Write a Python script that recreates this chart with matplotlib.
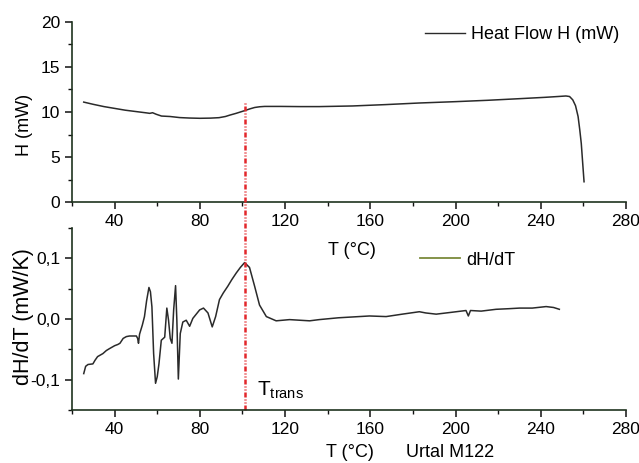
import numpy as np
import matplotlib
matplotlib.use("Agg")
import matplotlib.pyplot as plt
from matplotlib.ticker import MultipleLocator, FuncFormatter
from matplotlib.lines import Line2D

plt.rcParams['font.family'] = ['Liberation Sans', 'DejaVu Sans']

# heat flow H (mW) vs T (°C)
t_heat = [25.5, 30, 35, 40, 45, 50, 55, 56.5, 57.8, 59.5, 62, 66, 70.5, 75, 80, 85, 89,
          92, 94, 97, 101, 103.5, 105.7, 108, 110.4, 118, 127, 136, 151.6, 167, 183,
          200, 215, 230, 242, 248, 251.8, 253.5, 255, 256.3, 257.5, 258.3, 259, 259.7, 260.3]
h_heat = [11.1, 10.85, 10.6, 10.4, 10.2, 10.05, 9.9, 9.85, 9.92, 9.75, 9.55, 9.5, 9.38, 9.33, 9.3, 9.32, 9.37,
          9.5, 9.65, 9.85, 10.15, 10.35, 10.5, 10.58, 10.62, 10.62, 10.6, 10.6, 10.67, 10.82, 11.0,
          11.15, 11.3, 11.48, 11.63, 11.72, 11.78, 11.72, 11.35, 10.7, 9.5, 8.0, 6.5, 4.2, 2.25]

# derivative dH/dT (mW/K)
t_der = [25.5, 26.4, 27.5, 29.8, 30.8, 32, 33, 34.5, 36.1, 37.5, 38.5, 40, 41.5, 42.5, 44, 45.5,
         47, 50.2, 50.8, 51.2, 51.7, 53, 54, 55, 56.1, 56.8, 57.5, 58.3, 59.2, 60, 60.8, 61.9,
         63.5, 64.5, 65.3, 66.1, 66.9, 67.7, 68.6, 69.2, 69.9, 70.8, 72, 73.6, 75.2, 76.7,
         79.9, 81.7, 83.8, 85.8, 87.4, 89.2, 91, 93.1, 95, 97.1, 99, 101, 103.3, 105.7, 108,
         111.2, 115.8, 122.1, 131.5, 136, 145, 159.6, 167.4, 175, 183, 186, 190.9, 198, 204.9,
         206, 207, 212, 219, 225, 230, 236, 242.5, 246, 248.7]
d_der = [-0.090, -0.078, -0.075, -0.074, -0.068, -0.062, -0.060, -0.057, -0.052, -0.049, -0.047, -0.044, -0.042, -0.040, -0.032, -0.029,
         -0.028, -0.028, -0.032, -0.040, -0.025, -0.010, 0.004, 0.030, 0.052, 0.045, 0.020, -0.057, -0.106, -0.095, -0.074, -0.035,
         -0.030, 0.018, -0.002, -0.032, -0.040, 0.015, 0.055, -0.002, -0.099, -0.024, -0.005, -0.002, -0.012, 0.001,
         0.015, 0.018, 0.010, -0.013, 0.004, 0.032, 0.043, 0.054, 0.065, 0.076, 0.085, 0.093, 0.085, 0.054, 0.023,
         0.004, -0.003, -0.001, -0.003, -0.001, 0.002, 0.005, 0.004, 0.008, 0.012, 0.010, 0.008, 0.011, 0.014,
         0.005, 0.014, 0.013, 0.016, 0.017, 0.018, 0.018, 0.0205, 0.019, 0.016]

t_trans = 101

spine_col = '#1f331f'

fig = plt.figure(figsize=(6.39, 4.63), dpi=100)
ax1 = fig.add_axes([0.1127, 0.5637, 0.867, 0.3888])
ax2 = fig.add_axes([0.1127, 0.1145, 0.867, 0.393])
ax1.patch.set_alpha(0)
ax2.patch.set_alpha(0)

ax1.plot(t_heat, h_heat, color='#2a2a2a', lw=1.1)
ax2.plot(t_der, d_der, color='#2a2a2a', lw=1.1)

for ax in (ax1, ax2):
    ax.set_xlim(20, 280)
    ax.xaxis.set_major_locator(MultipleLocator(40))
    ax.xaxis.set_minor_locator(MultipleLocator(20))
    for s in ['top', 'right']:
        ax.spines[s].set_visible(False)
    for s in ['left', 'bottom']:
        ax.spines[s].set_color(spine_col)
        ax.spines[s].set_linewidth(1.2)
    ax.tick_params(which='major', direction='out', length=5, width=1.1, labelsize=12.5, color='#111111')
    ax.tick_params(which='minor', direction='out', length=3, width=1.0, color='#111111')
    ax.set_xticks([40, 80, 120, 160, 200, 240, 280])

ax1.set_ylim(0, 20)
ax1.yaxis.set_major_locator(MultipleLocator(5))
ax1.yaxis.set_minor_locator(MultipleLocator(2.5))
ax1.text(-0.086, 0.43, 'H (mW)', transform=ax1.transAxes, fontsize=13,
         rotation=90, ha='center', va='center')
ax1.text(0.505, -0.272, 'T (°C)', transform=ax1.transAxes, fontsize=13,
         ha='center', va='center')

ax2.set_ylim(-0.15, 0.15)
ax2.set_yticks([-0.1, 0.0, 0.1])
ax2.yaxis.set_minor_locator(MultipleLocator(0.05))
ax2.yaxis.set_major_formatter(FuncFormatter(lambda v, p: ('%.1f' % v).replace('.', ',')))
ax2.text(-0.087, 0.514, 'dH/dT (mW/K)', transform=ax2.transAxes, fontsize=15.5,
         rotation=90, ha='center', va='center')
ax2.text(0.502, -0.236, 'T (°C)', transform=ax2.transAxes, fontsize=13,
         ha='center', va='center')
ax2.text(0.682, -0.236, 'Urtal M122', transform=ax2.transAxes, fontsize=13,
         ha='center', va='center')

# legends
h1 = Line2D([], [], color='#2a2a2a', lw=1.0)
ax1.legend([h1], ['Heat Flow H (mW)'], loc='center left', bbox_to_anchor=(0.637, 0.928),
           frameon=False, fontsize=13, borderpad=0, borderaxespad=0,
           handlelength=2.2, handletextpad=0.35)
h2 = Line2D([], [], color='#7b8a3a', lw=1.3)
ax2.legend([h2], ['dH/dT'], loc='center left', bbox_to_anchor=(0.628, 0.824),
           frameon=False, fontsize=13, borderpad=0, borderaxespad=0,
           handlelength=2.2, handletextpad=0.35)

# transition temperature marker, running from the lower panel up into the upper one
ax2.axvline(t_trans, ymin=0, ymax=1.69, clip_on=False, color='#e3262b', lw=1.8,
            linestyle=(0, (2.0, 0.8, 0.4, 0.8, 0.4, 0.8)))
ax2.text(107, -0.127, r'$\mathregular{T_{trans}}$', fontsize=15, va='baseline', ha='left')

fig.savefig('out.png', dpi=100)
